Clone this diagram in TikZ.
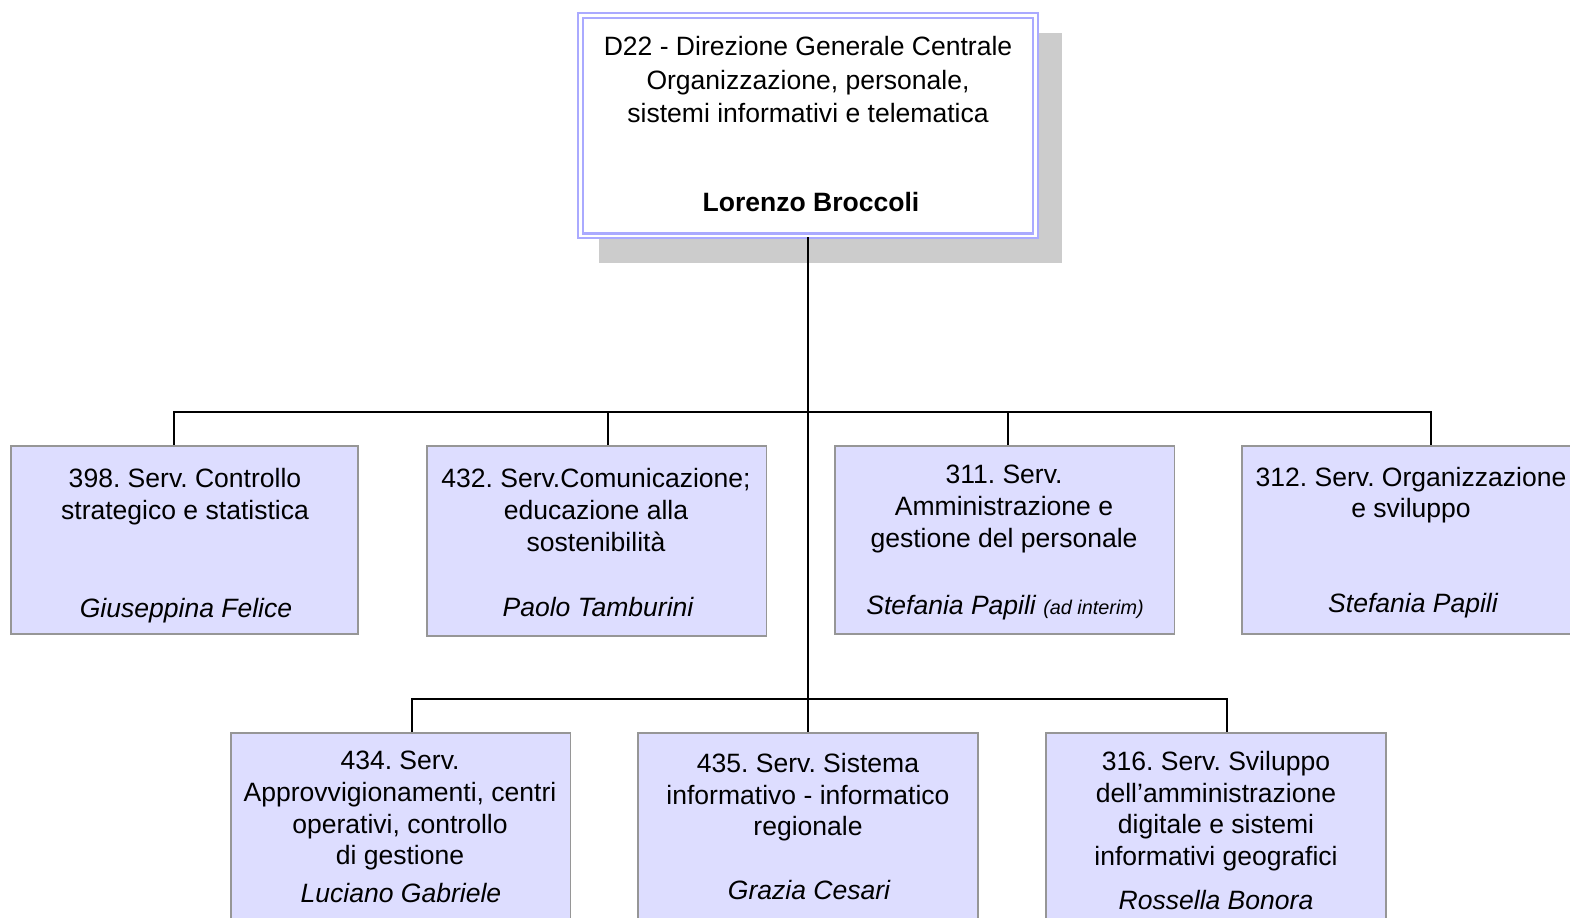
\documentclass[tikz,border=0pt]{standalone}
\usepackage{fontspec}
\setmainfont{Liberation Sans}
\usepackage{tikz}
\frenchspacing
\definecolor{lilac}{RGB}{221,221,255}
\definecolor{boxframe}{RGB}{150,150,150}
\definecolor{topframe}{RGB}{170,170,255}
\definecolor{shadowgray}{RGB}{204,204,204}
\tikzstyle{unit}=[draw=boxframe, fill=lilac, line width=1.1pt, minimum width=6.8cm, minimum height=3.76cm, inner sep=0pt]
\tikzstyle{heading}=[align=center, anchor=north, inner sep=0pt, font=\fontsize{15.1}{18.1}\selectfont]
\tikzstyle{person}=[anchor=base, inner sep=0pt, font=\fontsize{15.1}{18.1}\selectfont\itshape]

\begin{document}
\begin{tikzpicture}[x=0.02cm, y=-0.02cm, line width=1.1pt]
    \fill[white] (0,0) rectangle (1570,917);
    \clip (0,0) rectangle (1570,917);
% Direzione
    \fill[shadowgray] (599,33) rectangle (1062,263);
    \node[draw=topframe, fill=white, double=white, double distance=1.4pt, line width=1.3pt,
          minimum width=9.11cm, minimum height=4.41cm, inner sep=0pt] (top) at (808,125.75) {};
    \node[heading, font=\fontsize{15.1}{18.9}\selectfont] (top-t) at (808,35.6)
        {D22 - Direzione Generale Centrale\\Organizzazione, personale,\\sistemi informativi e telematica};
    \node[person, font=\fontsize{15.1}{18.1}\selectfont\bfseries] (top-n) at (811,211.7) {Lorenzo Broccoli};
% Servizi, first row
    \node[unit, minimum width=6.94cm] (s398) at (184.5,540) {};
    \node[unit, minimum height=3.8cm] (s432) at (596.5,541) {};
    \node[unit] (s311) at (1004.5,540) {};
    \node[unit] (s312) at (1412,540) {};
% Servizi, second row
    \node[unit, minimum height=3.84cm] (s434) at (400.5,829) {};
    \node[unit, minimum height=3.84cm] (s435) at (808,829) {};
    \node[unit, minimum height=3.84cm] (s316) at (1216,829) {};
% Titles
    \node[heading] (s398-t) at (185,467.5) {398. Serv. Controllo\\strategico e statistica};
    \node[heading] (s432-t) at (596,467.6) {432. Serv.Comunicazione;\\educazione alla\\sostenibilità};
    \node[heading] (s311-t) at (1004,464) {311. Serv.\\Amministrazione e\\gestione del personale};
    \node[heading] (s312-t) at (1411,466) {312. Serv. Organizzazione\\e sviluppo};
    \node[heading] (s434-t) at (400,750) {434. Serv.\\Approvvigionamenti, centri\\operativi, controllo\\di gestione};
    \node[heading] (s435-t) at (808,752) {435. Serv. Sistema\\informativo - informatico\\regionale};
    \node[heading] (s316-t) at (1216,750) {316. Serv. Sviluppo\\dell’amministrazione\\digitale e sistemi\\informativi geografici};
% Names
    \node[person] (s398-n) at (186,617) {Giuseppina Felice};
    \node[person] (s432-n) at (598,616.5) {Paolo Tamburini};
    \node[person] (s311-n) at (1005,614.5) {Stefania Papili {\fontsize{11.3}{13}\selectfont(ad interim)}};
    \node[person] (s312-n) at (1413,612.5) {Stefania Papili};
    \node[person] (s434-n) at (401,902.5) {Luciano Gabriele};
    \node[person] (s435-n) at (809,899.5) {Grazia Cesari};
    \node[person] (s316-n) at (1216,909.5) {Rossella Bonora};
% Lines
    \coordinate (bus1) at (808,412);
    \coordinate (bus2) at (808,699);
    \draw (top.south) -- (s435.north);
    \draw ([shift={(-10.5,0)}]s398.north) |- (bus1) -| ([shift={(19,0)}]s312.north);
    \draw ([shift={(11.5,0)}]s432.north) |- (bus1);
    \draw ([shift={(3.5,0)}]s311.north) |- (bus1);
    \draw ([shift={(11.5,0)}]s434.north) |- (bus2) -| ([shift={(11,0)}]s316.north);
\end{tikzpicture}
\end{document}
